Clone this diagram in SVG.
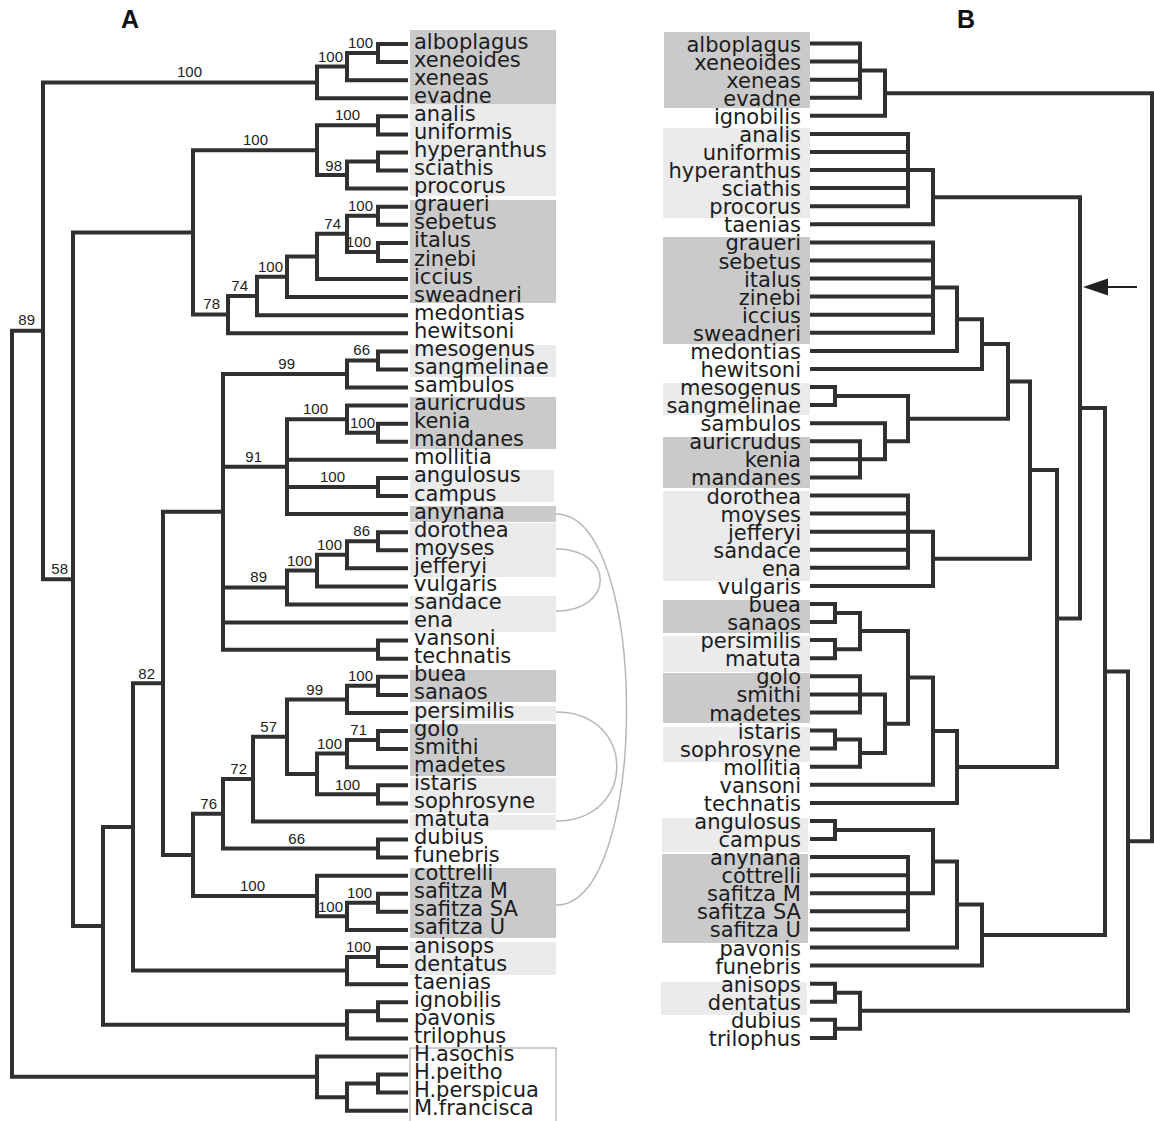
<svg xmlns="http://www.w3.org/2000/svg" width="1154" height="1121" viewBox="0 0 1154 1121">
<style>
.br{fill:none;stroke:#303030;stroke-width:4;stroke-linejoin:miter;stroke-linecap:butt}
.tx{font-family:"DejaVu Sans",Verdana,sans-serif;font-size:21px;fill:#1c1c1c}
.tr{font-family:"DejaVu Sans",Verdana,sans-serif;font-size:21px;fill:#1c1c1c;text-anchor:end}
.bs{font-family:"Liberation Sans",Arial,sans-serif;font-size:15px;fill:#222;text-anchor:end}
.pl{font-family:"Liberation Sans",Arial,sans-serif;font-size:25px;font-weight:bold;fill:#111;text-anchor:middle}
.dk{fill:#cacaca}
.lt{fill:#ebebeb}
.arc{fill:none;stroke:#b8b8b8;stroke-width:1.5}
</style>
<rect width="1154" height="1121" fill="#fff"/>
<text class="pl" x="130" y="28">A</text>
<text class="pl" x="966" y="28">B</text>
<g id="boxesA">
<rect class="dk" x="410" y="30" width="146" height="74"/>
<rect class="lt" x="410" y="104" width="146" height="92"/>
<rect class="dk" x="410" y="200" width="146" height="103"/>
<rect class="lt" x="410" y="345" width="146" height="32"/>
<rect class="dk" x="410" y="397" width="146" height="52"/>
<rect class="lt" x="410" y="470" width="144" height="32"/>
<rect class="dk" x="410" y="506" width="146" height="16"/>
<rect class="lt" x="410" y="523" width="146" height="54"/>
<rect class="lt" x="410" y="596" width="146" height="36"/>
<rect class="dk" x="410" y="670" width="146" height="32"/>
<rect class="lt" x="410" y="706" width="146" height="15"/>
<rect class="dk" x="410" y="724" width="146" height="52"/>
<rect class="lt" x="410" y="778" width="146" height="35"/>
<rect class="lt" x="410" y="815" width="146" height="15"/>
<rect class="dk" x="410" y="868" width="146" height="70"/>
<rect class="lt" x="410" y="942" width="146" height="33"/>
<rect x="410" y="1048" width="146" height="80" fill="#fff" stroke="#a0a0a0" stroke-width="1"/>
</g>
<g id="boxesB">
<rect class="dk" x="664" y="32" width="146" height="76"/>
<rect class="lt" x="663" y="128" width="147" height="90"/>
<rect class="dk" x="663" y="237" width="147" height="107"/>
<rect class="lt" x="663" y="383" width="147" height="32"/>
<rect class="dk" x="663" y="437" width="147" height="51"/>
<rect class="lt" x="663" y="491" width="147" height="90"/>
<rect class="dk" x="663" y="600" width="147" height="33"/>
<rect class="lt" x="663" y="636" width="147" height="36"/>
<rect class="dk" x="663" y="673" width="147" height="50"/>
<rect class="lt" x="663" y="727" width="147" height="35"/>
<rect class="lt" x="662" y="818" width="146" height="34"/>
<rect class="dk" x="662" y="854" width="146" height="89"/>
<rect class="lt" x="661" y="982" width="146" height="33"/>
</g>
<g id="connectors">
<g id="treeA">
<path class="br" d="M408 44H378V62.1H408"/>
<path class="br" d="M378 53.05H347V80.2H408"/>
<path class="br" d="M347 66.6H317V98.2H408"/>
<path class="br" d="M408 116.3H378V134.4H408"/>
<path class="br" d="M408 152.5H378V170.6H408"/>
<path class="br" d="M378 161.55H347V188.6H408"/>
<path class="br" d="M378 125.35H317V175.1H347"/>
<path class="br" d="M408 206.7H378V224.8H408"/>
<path class="br" d="M408 242.9H378V261H408"/>
<path class="br" d="M378 215.75H347V251.95H378"/>
<path class="br" d="M347 233.85H317V279H408"/>
<path class="br" d="M317 256.4H287V297.1H408"/>
<path class="br" d="M287 276.8H257V315.2H408"/>
<path class="br" d="M257 296H228V333.3H408"/>
<path class="br" d="M317 150.2H193V314.6H228"/>
<path class="br" d="M408 351.4H378V369.4H408"/>
<path class="br" d="M378 360.4H347V387.5H408"/>
<path class="br" d="M408 423.7H378V441.8H408"/>
<path class="br" d="M408 405.6H347V432.75H378"/>
<path class="br" d="M408 477.9H378V496H408"/>
<path class="br" d="M347 419.2H287V514.1H408M287 459.8H408M287 486.95H378"/>
<path class="br" d="M408 532.2H378V550.2H408"/>
<path class="br" d="M378 541.2H347V568.3H408"/>
<path class="br" d="M347 554.75H317V586.4H408"/>
<path class="br" d="M317 570.6H287V604.5H408"/>
<path class="br" d="M408 640.6H378V658.7H408"/>
<path class="br" d="M347 373.95H223V649.65H378M223 466.65H287M223 587.55H287M223 622.6H408"/>
<path class="br" d="M408 676.8H378V694.9H408"/>
<path class="br" d="M378 685.85H347V713H408"/>
<path class="br" d="M408 731H378V749.1H408"/>
<path class="br" d="M378 740.05H347V767.2H408"/>
<path class="br" d="M408 785.3H378V803.4H408"/>
<path class="br" d="M347 753.6H317V794.35H378"/>
<path class="br" d="M347 699.4H287V774H317"/>
<path class="br" d="M287 736.7H253V821.4H408"/>
<path class="br" d="M408 839.5H378V857.6H408"/>
<path class="br" d="M253 779.05H223V848.55H378"/>
<path class="br" d="M408 893.8H378V911.8H408"/>
<path class="br" d="M378 902.8H347V929.9H408"/>
<path class="br" d="M408 875.7H317V916.35H347"/>
<path class="br" d="M223 813.8H193V896H317"/>
<path class="br" d="M223 511.8H163V854.9H193"/>
<path class="br" d="M408 948H378V966.1H408"/>
<path class="br" d="M378 957.05H347V984.2H408"/>
<path class="br" d="M163 683.35H133V970.6H347"/>
<path class="br" d="M408 1002.2H378V1020.3H408"/>
<path class="br" d="M378 1011.25H347V1038.4H408"/>
<path class="br" d="M133 827H103V1024.8H347"/>
<path class="br" d="M193 232.4H73V925.9H103"/>
<path class="br" d="M317 82.4H43V579.15H73"/>
<path class="br" d="M408 1074.6H378V1092.6H408"/>
<path class="br" d="M378 1083.6H347V1110.7H408"/>
<path class="br" d="M408 1056.5H317V1097.15H347"/>
<path class="br" d="M43 330.8H12V1076.8H317"/>
</g>
<g id="arcs">
<path class="arc" d="M556 514C650 514 650 905 556 905"/>
<path class="arc" d="M556 549C615 549 615 611 556 611"/>
<path class="arc" d="M556 712C637 712 637 821 556 821"/>
</g>
<g id="treeB">
<path class="br" d="M810 43.5H860V97.7H810M810 61.6H860M810 79.7H860"/>
<path class="br" d="M860 70.6H885V115.8H810"/>
<path class="br" d="M810 133.9H908V206.2H810M810 152H908M810 170.1H908M810 188.1H908"/>
<path class="br" d="M908 170.05H933V224.3H810"/>
<path class="br" d="M810 242.4H933V332.8H810M810 260.5H933M810 278.5H933M810 296.6H933M810 314.7H933"/>
<path class="br" d="M933 287.6H957V350.9H810"/>
<path class="br" d="M957 319.25H982V369H810"/>
<path class="br" d="M810 387H835V405.1H810"/>
<path class="br" d="M810 441.3H860V477.4H810M810 459.3H860"/>
<path class="br" d="M810 423.2H885V459.35H860"/>
<path class="br" d="M835 396.05H908V441.3H885"/>
<path class="br" d="M982 344.1H1008V418.7H908"/>
<path class="br" d="M810 495.5H908V567.8H810M810 513.6H908M810 531.7H908M810 549.7H908"/>
<path class="br" d="M908 531.65H933V585.9H810"/>
<path class="br" d="M1008 381.4H1030V558.8H933"/>
<path class="br" d="M810 604H835V622.1H810"/>
<path class="br" d="M810 640.1H835V658.2H810"/>
<path class="br" d="M835 613.05H860V649.15H835"/>
<path class="br" d="M810 676.3H860V712.5H810M810 694.4H860"/>
<path class="br" d="M810 730.5H835V748.6H810"/>
<path class="br" d="M835 739.55H860V766.7H810"/>
<path class="br" d="M860 694.4H885V753.1H860"/>
<path class="br" d="M860 631.1H908V723.75H885"/>
<path class="br" d="M908 677.4H933V784.8H810"/>
<path class="br" d="M933 731.1H957V802.9H810"/>
<path class="br" d="M1030 470.1H1057V767H957"/>
<path class="br" d="M933 197.2H1080V618.55H1057"/>
<path class="br" d="M810 820.9H835V839H810"/>
<path class="br" d="M810 857.1H908V929.4H810M810 875.2H908M810 893.3H908M810 911.3H908"/>
<path class="br" d="M835 829.95H933V893.25H908"/>
<path class="br" d="M933 861.6H957V947.5H810"/>
<path class="br" d="M957 904.55H982V965.6H810"/>
<path class="br" d="M1080 407.9H1105V935.1H982"/>
<path class="br" d="M810 983.7H835V1001.7H810"/>
<path class="br" d="M810 1019.8H835V1037.9H810"/>
<path class="br" d="M835 992.7H860V1028.85H835"/>
<path class="br" d="M1105 671.5H1128V1010.8H860"/>
<path class="br" d="M885 93.2H1152V841.15H1128"/>
</g>
<g id="arrow">
<path d="M1106 287H1137" stroke="#222" stroke-width="2"/>
<polygon points="1083,287 1108,278.5 1108,295.5" fill="#222"/>
</g>
</g>
<g id="supportA">
<text class="bs" x="373" y="48">100</text>
<text class="bs" x="343" y="62">100</text>
<text class="bs" x="202" y="77">100</text>
<text class="bs" x="360" y="120">100</text>
<text class="bs" x="268" y="145">100</text>
<text class="bs" x="342" y="171">98</text>
<text class="bs" x="373" y="211">100</text>
<text class="bs" x="341" y="229">74</text>
<text class="bs" x="371" y="247">100</text>
<text class="bs" x="283" y="272">100</text>
<text class="bs" x="248" y="291">74</text>
<text class="bs" x="220" y="309">78</text>
<text class="bs" x="35" y="325">89</text>
<text class="bs" x="68" y="574">58</text>
<text class="bs" x="295" y="369">99</text>
<text class="bs" x="370" y="355">66</text>
<text class="bs" x="328" y="414">100</text>
<text class="bs" x="375" y="428">100</text>
<text class="bs" x="262" y="462">91</text>
<text class="bs" x="345" y="482">100</text>
<text class="bs" x="370" y="536">86</text>
<text class="bs" x="342" y="550">100</text>
<text class="bs" x="312" y="566">100</text>
<text class="bs" x="267" y="582">89</text>
<text class="bs" x="373" y="681">100</text>
<text class="bs" x="323" y="695">99</text>
<text class="bs" x="367" y="735">71</text>
<text class="bs" x="342" y="749">100</text>
<text class="bs" x="360" y="790">100</text>
<text class="bs" x="277" y="732">57</text>
<text class="bs" x="247" y="774">72</text>
<text class="bs" x="217" y="809">76</text>
<text class="bs" x="305" y="844">66</text>
<text class="bs" x="265" y="891">100</text>
<text class="bs" x="372" y="898">100</text>
<text class="bs" x="343" y="912">100</text>
<text class="bs" x="155" y="679">82</text>
<text class="bs" x="371" y="952">100</text>
</g>
<g id="taxaA">
<g id="a-alboplagus"><text class="tx" x="414" y="48.5">alboplagus</text></g>
<g id="a-xeneoides"><text class="tx" x="414" y="66.6">xeneoides</text></g>
<g id="a-xeneas"><text class="tx" x="414" y="84.7">xeneas</text></g>
<g id="a-evadne"><text class="tx" x="414" y="102.7">evadne</text></g>
<g id="a-analis"><text class="tx" x="414" y="120.8">analis</text></g>
<g id="a-uniformis"><text class="tx" x="414" y="138.9">uniformis</text></g>
<g id="a-hyperanthus"><text class="tx" x="414" y="157">hyperanthus</text></g>
<g id="a-sciathis"><text class="tx" x="414" y="175.1">sciathis</text></g>
<g id="a-procorus"><text class="tx" x="414" y="193.1">procorus</text></g>
<g id="a-graueri"><text class="tx" x="414" y="211.2">graueri</text></g>
<g id="a-sebetus"><text class="tx" x="414" y="229.3">sebetus</text></g>
<g id="a-italus"><text class="tx" x="414" y="247.4">italus</text></g>
<g id="a-zinebi"><text class="tx" x="414" y="265.5">zinebi</text></g>
<g id="a-iccius"><text class="tx" x="414" y="283.5">iccius</text></g>
<g id="a-sweadneri"><text class="tx" x="414" y="301.6">sweadneri</text></g>
<g id="a-medontias"><text class="tx" x="414" y="319.7">medontias</text></g>
<g id="a-hewitsoni"><text class="tx" x="414" y="337.8">hewitsoni</text></g>
<g id="a-mesogenus"><text class="tx" x="414" y="355.9">mesogenus</text></g>
<g id="a-sangmelinae"><text class="tx" x="414" y="373.9">sangmelinae</text></g>
<g id="a-sambulos"><text class="tx" x="414" y="392">sambulos</text></g>
<g id="a-auricrudus"><text class="tx" x="414" y="410.1">auricrudus</text></g>
<g id="a-kenia"><text class="tx" x="414" y="428.2">kenia</text></g>
<g id="a-mandanes"><text class="tx" x="414" y="446.3">mandanes</text></g>
<g id="a-mollitia"><text class="tx" x="414" y="464.3">mollitia</text></g>
<g id="a-angulosus"><text class="tx" x="414" y="482.4">angulosus</text></g>
<g id="a-campus"><text class="tx" x="414" y="500.5">campus</text></g>
<g id="a-anynana"><text class="tx" x="414" y="518.6">anynana</text></g>
<g id="a-dorothea"><text class="tx" x="414" y="536.7">dorothea</text></g>
<g id="a-moyses"><text class="tx" x="414" y="554.7">moyses</text></g>
<g id="a-jefferyi"><text class="tx" x="414" y="572.8">jefferyi</text></g>
<g id="a-vulgaris"><text class="tx" x="414" y="590.9">vulgaris</text></g>
<g id="a-sandace"><text class="tx" x="414" y="609">sandace</text></g>
<g id="a-ena"><text class="tx" x="414" y="627.1">ena</text></g>
<g id="a-vansoni"><text class="tx" x="414" y="645.1">vansoni</text></g>
<g id="a-technatis"><text class="tx" x="414" y="663.2">technatis</text></g>
<g id="a-buea"><text class="tx" x="414" y="681.3">buea</text></g>
<g id="a-sanaos"><text class="tx" x="414" y="699.4">sanaos</text></g>
<g id="a-persimilis"><text class="tx" x="414" y="717.5">persimilis</text></g>
<g id="a-golo"><text class="tx" x="414" y="735.5">golo</text></g>
<g id="a-smithi"><text class="tx" x="414" y="753.6">smithi</text></g>
<g id="a-madetes"><text class="tx" x="414" y="771.7">madetes</text></g>
<g id="a-istaris"><text class="tx" x="414" y="789.8">istaris</text></g>
<g id="a-sophrosyne"><text class="tx" x="414" y="807.9">sophrosyne</text></g>
<g id="a-matuta"><text class="tx" x="414" y="825.9">matuta</text></g>
<g id="a-dubius"><text class="tx" x="414" y="844">dubius</text></g>
<g id="a-funebris"><text class="tx" x="414" y="862.1">funebris</text></g>
<g id="a-cottrelli"><text class="tx" x="414" y="880.2">cottrelli</text></g>
<g id="a-safitzaM"><text class="tx" x="414" y="898.3">safitza M</text></g>
<g id="a-safitzaSA"><text class="tx" x="414" y="916.3">safitza SA</text></g>
<g id="a-safitzaU"><text class="tx" x="414" y="934.4">safitza U</text></g>
<g id="a-anisops"><text class="tx" x="414" y="952.5">anisops</text></g>
<g id="a-dentatus"><text class="tx" x="414" y="970.6">dentatus</text></g>
<g id="a-taenias"><text class="tx" x="414" y="988.7">taenias</text></g>
<g id="a-ignobilis"><text class="tx" x="414" y="1006.7">ignobilis</text></g>
<g id="a-pavonis"><text class="tx" x="414" y="1024.8">pavonis</text></g>
<g id="a-trilophus"><text class="tx" x="414" y="1042.9">trilophus</text></g>
<g id="a-Hasochis"><text class="tx" x="414" y="1061">H.asochis</text></g>
<g id="a-Hpeitho"><text class="tx" x="414" y="1079.1">H.peitho</text></g>
<g id="a-Hperspicua"><text class="tx" x="414" y="1097.1">H.perspicua</text></g>
<g id="a-Mfrancisca"><text class="tx" x="414" y="1115.2">M.francisca</text></g>
</g>
<g id="taxaB">
<g id="b-alboplagus"><text class="tr" x="801" y="51.5">alboplagus</text></g>
<g id="b-xeneoides"><text class="tr" x="801" y="69.6">xeneoides</text></g>
<g id="b-xeneas"><text class="tr" x="801" y="87.7">xeneas</text></g>
<g id="b-evadne"><text class="tr" x="801" y="105.7">evadne</text></g>
<g id="b-ignobilis"><text class="tr" x="801" y="123.8">ignobilis</text></g>
<g id="b-analis"><text class="tr" x="801" y="141.9">analis</text></g>
<g id="b-uniformis"><text class="tr" x="801" y="160">uniformis</text></g>
<g id="b-hyperanthus"><text class="tr" x="801" y="178.1">hyperanthus</text></g>
<g id="b-sciathis"><text class="tr" x="801" y="196.1">sciathis</text></g>
<g id="b-procorus"><text class="tr" x="801" y="214.2">procorus</text></g>
<g id="b-taenias"><text class="tr" x="801" y="232.3">taenias</text></g>
<g id="b-graueri"><text class="tr" x="801" y="250.4">graueri</text></g>
<g id="b-sebetus"><text class="tr" x="801" y="268.5">sebetus</text></g>
<g id="b-italus"><text class="tr" x="801" y="286.5">italus</text></g>
<g id="b-zinebi"><text class="tr" x="801" y="304.6">zinebi</text></g>
<g id="b-iccius"><text class="tr" x="801" y="322.7">iccius</text></g>
<g id="b-sweadneri"><text class="tr" x="801" y="340.8">sweadneri</text></g>
<g id="b-medontias"><text class="tr" x="801" y="358.9">medontias</text></g>
<g id="b-hewitsoni"><text class="tr" x="801" y="377">hewitsoni</text></g>
<g id="b-mesogenus"><text class="tr" x="801" y="395">mesogenus</text></g>
<g id="b-sangmelinae"><text class="tr" x="801" y="413.1">sangmelinae</text></g>
<g id="b-sambulos"><text class="tr" x="801" y="431.2">sambulos</text></g>
<g id="b-auricrudus"><text class="tr" x="801" y="449.3">auricrudus</text></g>
<g id="b-kenia"><text class="tr" x="801" y="467.3">kenia</text></g>
<g id="b-mandanes"><text class="tr" x="801" y="485.4">mandanes</text></g>
<g id="b-dorothea"><text class="tr" x="801" y="503.5">dorothea</text></g>
<g id="b-moyses"><text class="tr" x="801" y="521.6">moyses</text></g>
<g id="b-jefferyi"><text class="tr" x="801" y="539.7">jefferyi</text></g>
<g id="b-sandace"><text class="tr" x="801" y="557.7">sandace</text></g>
<g id="b-ena"><text class="tr" x="801" y="575.8">ena</text></g>
<g id="b-vulgaris"><text class="tr" x="801" y="593.9">vulgaris</text></g>
<g id="b-buea"><text class="tr" x="801" y="612">buea</text></g>
<g id="b-sanaos"><text class="tr" x="801" y="630.1">sanaos</text></g>
<g id="b-persimilis"><text class="tr" x="801" y="648.1">persimilis</text></g>
<g id="b-matuta"><text class="tr" x="801" y="666.2">matuta</text></g>
<g id="b-golo"><text class="tr" x="801" y="684.3">golo</text></g>
<g id="b-smithi"><text class="tr" x="801" y="702.4">smithi</text></g>
<g id="b-madetes"><text class="tr" x="801" y="720.5">madetes</text></g>
<g id="b-istaris"><text class="tr" x="801" y="738.5">istaris</text></g>
<g id="b-sophrosyne"><text class="tr" x="801" y="756.6">sophrosyne</text></g>
<g id="b-mollitia"><text class="tr" x="801" y="774.7">mollitia</text></g>
<g id="b-vansoni"><text class="tr" x="801" y="792.8">vansoni</text></g>
<g id="b-technatis"><text class="tr" x="801" y="810.9">technatis</text></g>
<g id="b-angulosus"><text class="tr" x="801" y="828.9">angulosus</text></g>
<g id="b-campus"><text class="tr" x="801" y="847">campus</text></g>
<g id="b-anynana"><text class="tr" x="801" y="865.1">anynana</text></g>
<g id="b-cottrelli"><text class="tr" x="801" y="883.2">cottrelli</text></g>
<g id="b-safitzaM"><text class="tr" x="801" y="901.3">safitza M</text></g>
<g id="b-safitzaSA"><text class="tr" x="801" y="919.3">safitza SA</text></g>
<g id="b-safitzaU"><text class="tr" x="801" y="937.4">safitza U</text></g>
<g id="b-pavonis"><text class="tr" x="801" y="955.5">pavonis</text></g>
<g id="b-funebris"><text class="tr" x="801" y="973.6">funebris</text></g>
<g id="b-anisops"><text class="tr" x="801" y="991.7">anisops</text></g>
<g id="b-dentatus"><text class="tr" x="801" y="1009.7">dentatus</text></g>
<g id="b-dubius"><text class="tr" x="801" y="1027.8">dubius</text></g>
<g id="b-trilophus"><text class="tr" x="801" y="1045.9">trilophus</text></g>
</g>
</svg>
